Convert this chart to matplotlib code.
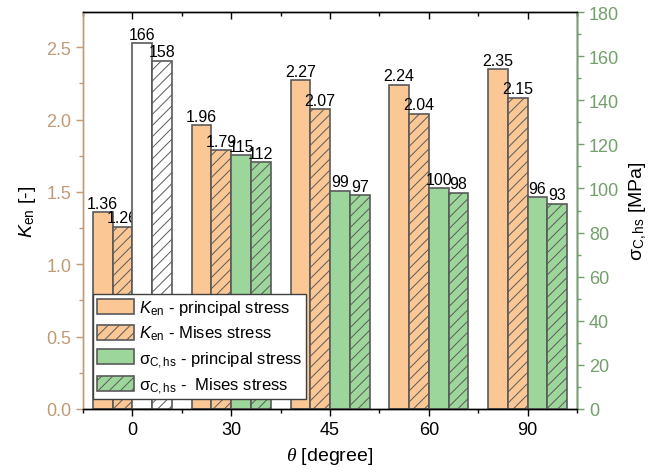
import matplotlib
matplotlib.use("Agg")
import matplotlib.pyplot as plt
import numpy as np
from matplotlib.patches import Patch
from matplotlib.ticker import MultipleLocator

plt.rcParams['font.family'] = ['Liberation Sans', 'DejaVu Sans']
plt.rcParams['mathtext.fontset'] = 'custom'
plt.rcParams['mathtext.rm'] = 'Liberation Sans'
plt.rcParams['mathtext.sf'] = 'Liberation Sans:italic'
plt.rcParams['mathtext.it'] = 'Liberation Serif:italic'
plt.rcParams['hatch.linewidth'] = 0.7

categories = ['0', '30', '45', '60', '90']
ken_principal = [1.36, 1.96, 2.27, 2.24, 2.35]
ken_mises = [1.26, 1.79, 2.07, 2.04, 2.15]
sigma_principal = [166, 115, 99, 100, 96]
sigma_mises = [158, 112, 97, 98, 93]

orange = '#FAC795'
green = '#9DD69B'
edge = '#5a5a5a'
tan = '#C09A76'
grn = '#72A06A'

fig = plt.figure(figsize=(6.61, 4.77), dpi=100)
ax = fig.add_axes([0.1256, 0.1405, 0.7474, 0.8322])
ax2 = ax.twinx()

x = np.arange(len(categories))
w = 0.2
sig_colors = ['white'] + [green] * (len(categories) - 1)
hatch = '///'

b1 = ax.bar(x - 0.3, ken_principal, w, color=orange, edgecolor=edge, linewidth=1.2)
b2 = ax.bar(x - 0.1, ken_mises, w, color=orange, edgecolor=edge, linewidth=1.2, hatch=hatch)
b3 = ax2.bar(x + 0.1, sigma_principal, w, color=sig_colors, edgecolor=edge, linewidth=1.2)
b4 = ax2.bar(x + 0.3, sigma_mises, w, color=sig_colors, edgecolor=edge, linewidth=1.2, hatch=hatch)

fs_val = 11.5
ax.bar_label(b1, labels=[f'{v:.2f}' for v in ken_principal], padding=1, fontsize=fs_val)
ax.bar_label(b2, labels=[f'{v:.2f}' for v in ken_mises], padding=1, fontsize=fs_val)
ax2.bar_label(b3, labels=[f'{v:d}' for v in sigma_principal], padding=1, fontsize=fs_val)
ax2.bar_label(b4, labels=[f'{v:d}' for v in sigma_mises], padding=1, fontsize=fs_val)

ax.set_xlim(-0.5, 4.5)
ax.set_ylim(0, 2.743)
ax2.set_ylim(0, 180)

ax.set_xticks(x)
ax.set_xticklabels(categories)
ax.xaxis.set_minor_locator(MultipleLocator(0.5))
ax.yaxis.set_major_locator(MultipleLocator(0.5))
ax.yaxis.set_minor_locator(MultipleLocator(0.25))
ax.yaxis.set_major_formatter(matplotlib.ticker.FormatStrFormatter('%.1f'))
ax2.yaxis.set_major_locator(MultipleLocator(20))
ax2.yaxis.set_minor_locator(MultipleLocator(10))

ax.tick_params(axis='x', which='major', direction='out', length=5, width=1, labelsize=13, top=True)
ax.tick_params(axis='x', which='minor', direction='out', length=3, width=1, top=True)
ax.tick_params(axis='x', which='both', labeltop=False)
ax.tick_params(axis='y', which='major', direction='out', length=5, width=1, labelsize=13, colors=tan)
ax.tick_params(axis='y', which='minor', direction='out', length=3, width=1, colors=tan)
ax2.tick_params(axis='y', which='major', direction='out', length=5, width=1, labelsize=13, colors=grn)
ax2.tick_params(axis='y', which='minor', direction='out', length=3, width=1, colors=grn)

# top ticks point inward
for t in ax.xaxis.get_major_ticks() + ax.xaxis.get_minor_ticks():
    t.tick2line.set_marker(matplotlib.lines.TICKDOWN)

ax.spines['left'].set_color(tan)
ax2.spines['left'].set_color(tan)
ax2.spines['right'].set_color(grn)
for s in ['left', 'right', 'top', 'bottom']:
    ax.spines[s].set_linewidth(1.0)
    ax2.spines[s].set_linewidth(1.0)

ax.set_xlabel(r'$\theta$ [degree]', fontsize=14, labelpad=5)
ax.set_ylabel(r'$\mathsf{K}_\mathrm{en}$ [-]', fontsize=14, labelpad=6)
ax2.set_ylabel(r'$\mathrm{\sigma}_\mathrm{C,hs}$ [MPa]', fontsize=14, labelpad=6)

handles = [
    Patch(facecolor=orange, edgecolor=edge, linewidth=1.2),
    Patch(facecolor=orange, edgecolor=edge, linewidth=1.2, hatch=hatch),
    Patch(facecolor=green, edgecolor=edge, linewidth=1.2),
    Patch(facecolor=green, edgecolor=edge, linewidth=1.2, hatch=hatch),
]
labels = [
    r'$\mathsf{K}_\mathrm{en}$ - principal stress',
    r'$\mathsf{K}_\mathrm{en}$ - Mises stress',
    r'$\mathrm{\sigma}_\mathrm{C,hs}$ - principal stress',
    r'$\mathrm{\sigma}_\mathrm{C,hs}$ -  Mises stress',
]
leg = ax2.legend(handles, labels, loc='lower left', bbox_to_anchor=(0.02, 0.025),
                 borderaxespad=0, fontsize=12, fancybox=False, framealpha=1,
                 edgecolor='#404040', handlelength=2.2, handleheight=1.0,
                 labelspacing=0.38, handletextpad=0.3, borderpad=0.25)
leg.get_frame().set_linewidth(1.0)

fig.savefig('out.png', dpi=100)
